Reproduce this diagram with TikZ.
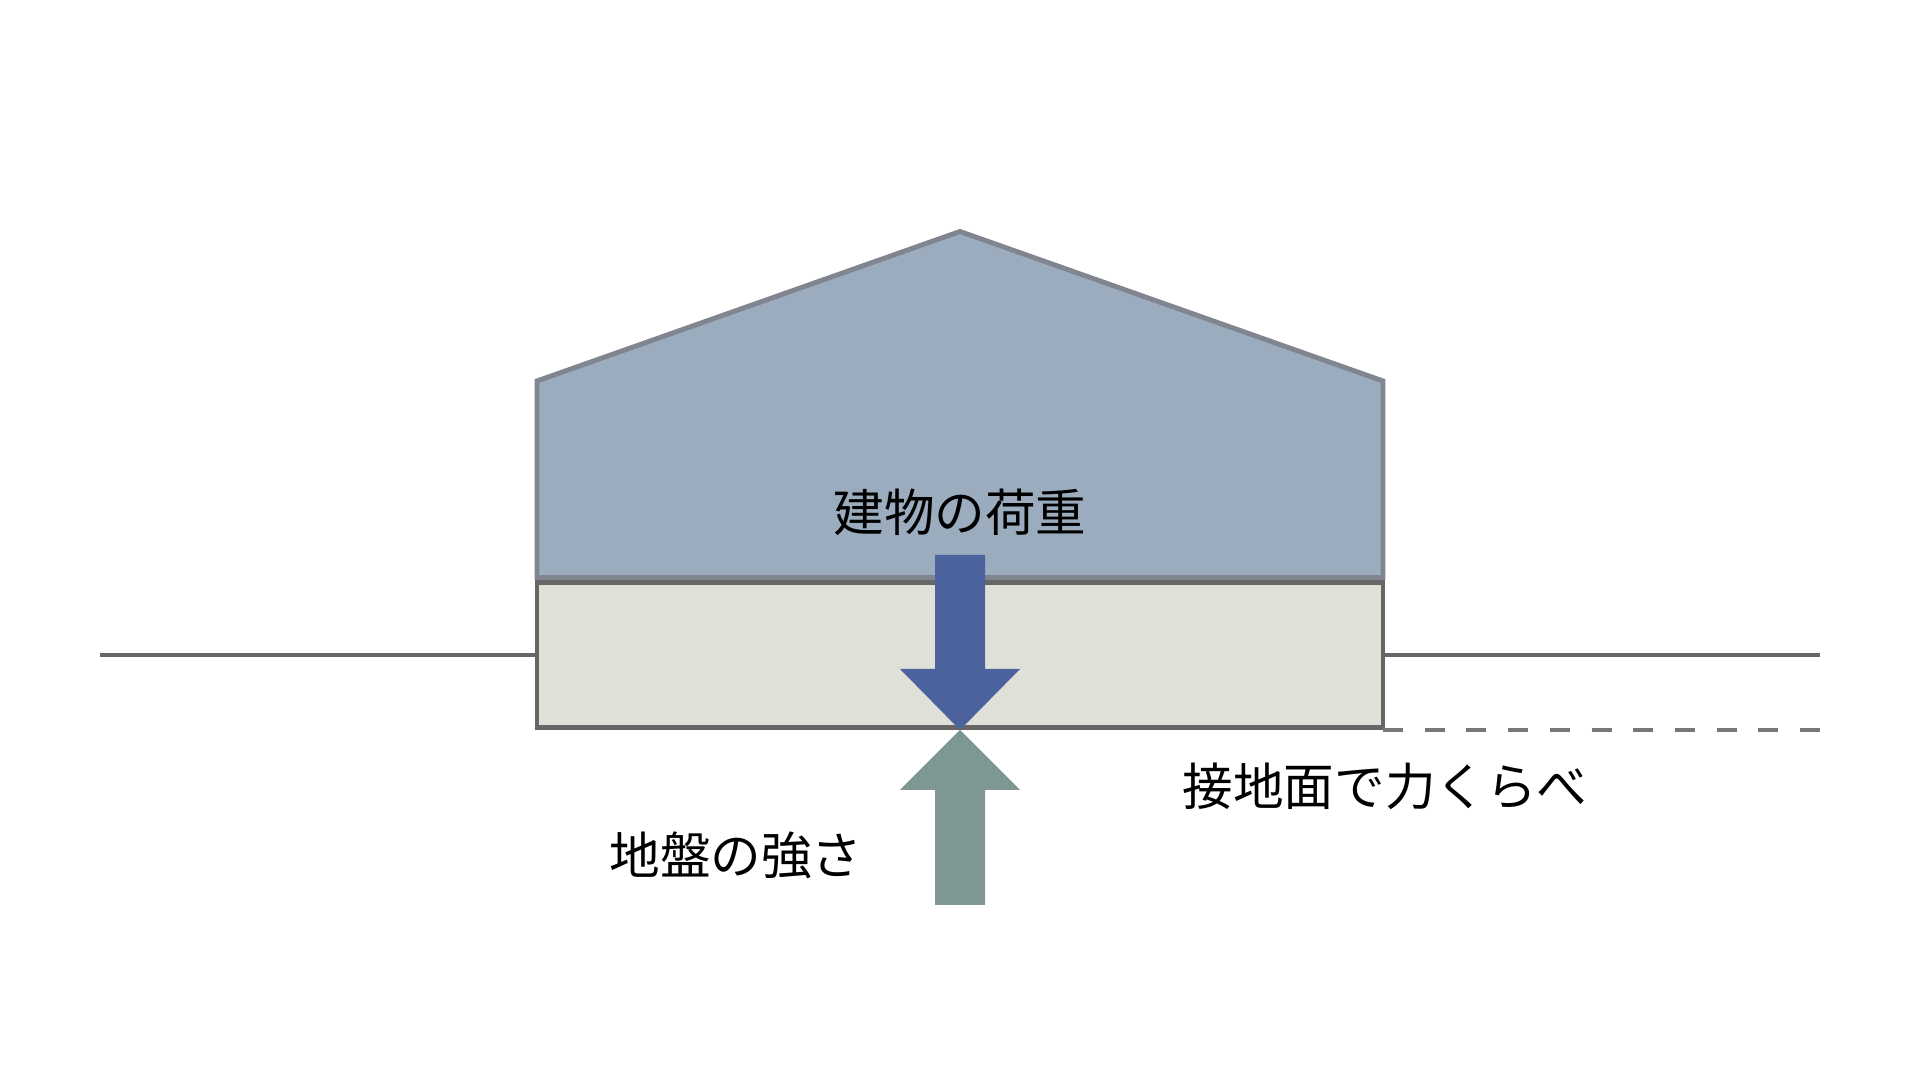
\documentclass[tikz,border=0pt]{standalone}
\usepackage{fontspec}
\newfontfamily\jpfont{Noto Sans CJK JP}
\usepackage{tikz}
\usetikzlibrary{positioning,calc}
\definecolor{houseblue}{HTML}{9AACBE}
\definecolor{houseedge}{HTML}{80858F}
\definecolor{basegray}{HTML}{DFE0D8}
\definecolor{edgegray}{HTML}{666666}
\definecolor{dashgray}{HTML}{777777}
\definecolor{loadblue}{HTML}{4C629E}
\definecolor{soilgreen}{HTML}{7E9793}

\begin{document}
\begin{tikzpicture}[
    x=0.01cm, y=-0.01cm,
    jplabel/.style={font=\jpfont\fontsize{14.4pt}{17pt}\selectfont, inner sep=0pt, text=black},
    house/.style={fill=houseblue, draw=houseedge, line width=1.4pt, line join=miter},
    base/.style={fill=basegray, draw=edgegray, line width=1.4pt},
    ground/.style={draw=edgegray, line width=1.3pt},
    contactline/.style={draw=dashgray, line width=1pt, dash pattern=on 5.69pt off 6.17pt}
]
    \useasboundingbox (0,0) rectangle (1920,1080);

    % --- Ground ---
    \coordinate (gl) at (100,655);
    \coordinate (gr) at (1820,655);
    \draw[ground] (gl) -- (537,655);
    \draw[ground] (1383,655) -- (gr);

    % --- Building ---
    \draw[house] (537,577.5) -- (537,381) -- (960,231.5) -- (1383,381) -- (1383,577.5) -- cycle;
    \draw[base] (537,582.5) rectangle (1383,727.5);

    % contact surface
    \coordinate (contact) at (960,730);
    \draw[contactline] (1383,730) -- (1820,730);

    % --- Load arrow (down) ---
    \fill[loadblue] (935,555) -- (985,555) -- (985,669) -- (1020,669) -- (contact)
        -- (900,669) -- (935,669) -- cycle;

    % --- Soil arrow (up) ---
    \fill[soilgreen] (935,905) -- (985,905) -- (985,790) -- (1020,790) -- (contact)
        -- (900,790) -- (935,790) -- cycle;

    % --- Labels ---
    \node[jplabel] (load) at (960,512) {建物の荷重};
    \node[jplabel] (soil) at (736,855) {地盤の強さ};
    \node[jplabel] (compare) at (1385,786) {接地面で力くらべ};

\end{tikzpicture}
\end{document}
